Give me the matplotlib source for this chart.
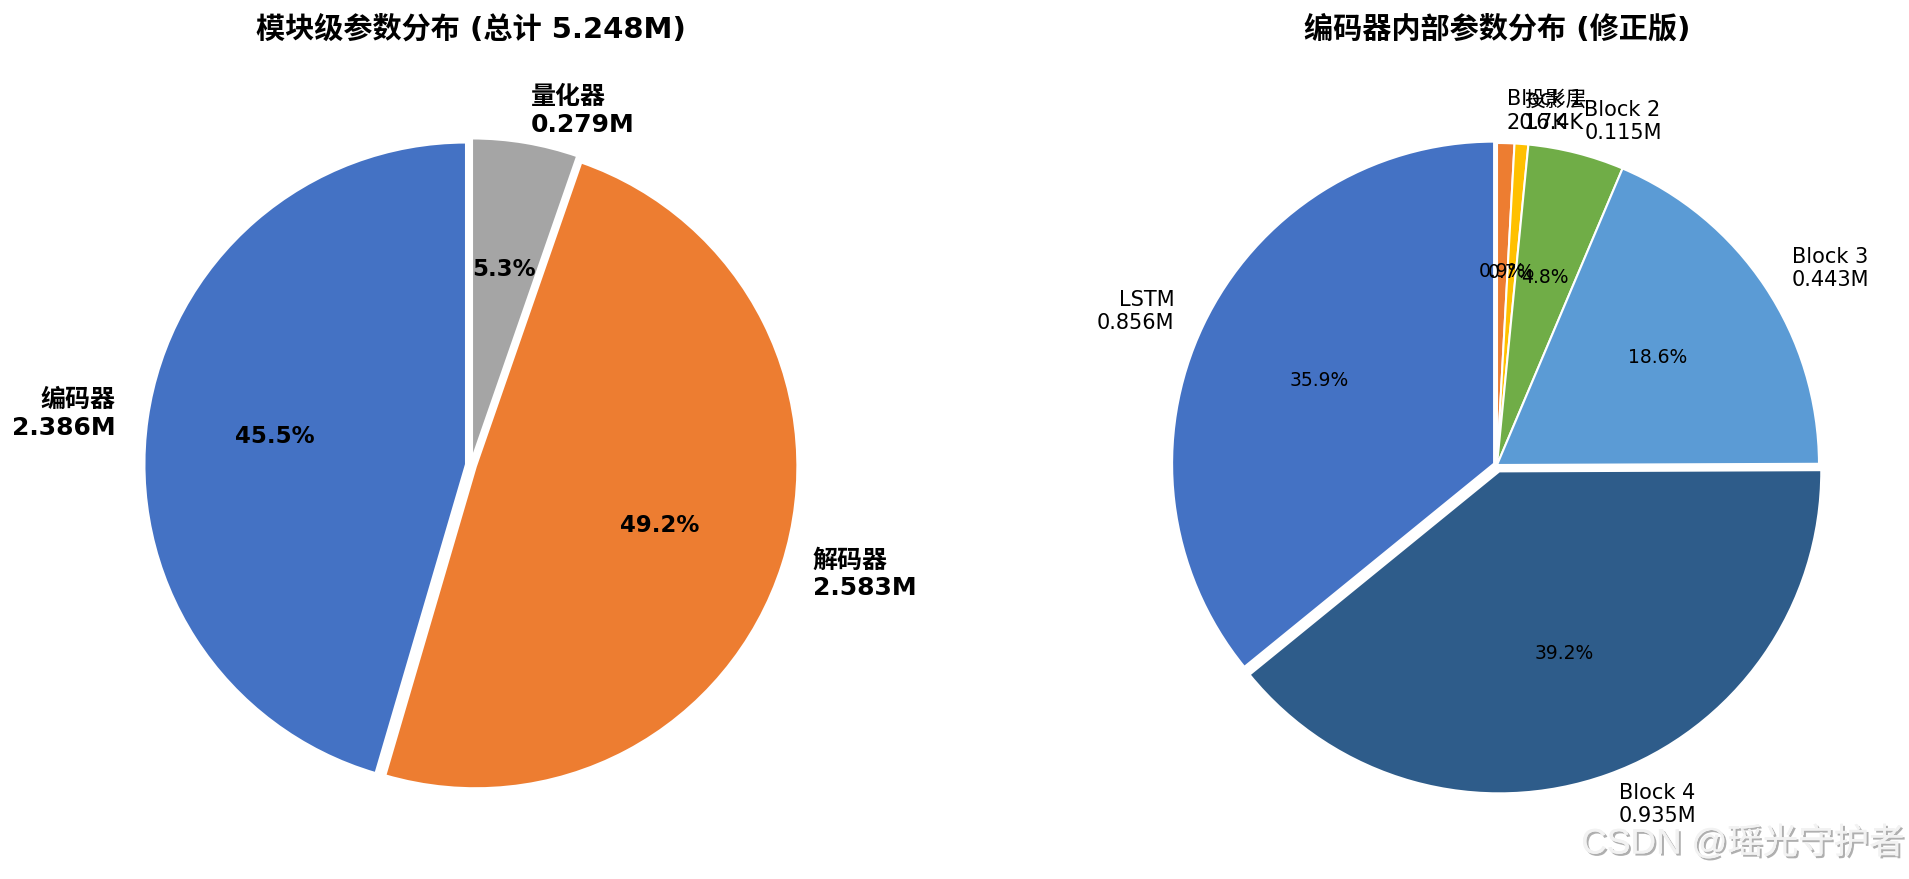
import matplotlib
matplotlib.use("Agg")
import matplotlib.pyplot as plt
import matplotlib.patheffects as pe

plt.rcParams['font.family'] = ['DejaVu Sans', 'Noto Sans CJK SC']

# ---- data ----
module_names = ['编码器', '解码器', '量化器']
module_params_m = [2.386, 2.583, 0.279]
module_colors = ['#4472C4', '#ED7D31', '#A5A5A5']
module_total_m = 5.248

enc_names = ['Block 1', '投影层', 'Block 2', 'Block 3', 'Block 4', 'LSTM']
enc_params_m = [0.0207, 0.0164, 0.115, 0.443, 0.935, 0.856]
enc_colors = ['#ED7D31', '#FFC000', '#70AD47', '#5B9BD5', '#2E5C8A', '#4472C4']

left_title = f'模块级参数分布 (总计 {module_total_m:.3f}M)'
right_title = '编码器内部参数分布 (修正版)'
watermark = 'CSDN @瑶光守护者'


def fmt(v):
    return f'{v * 1000:.1f}K' if v < 0.1 else f'{v:.3f}M'


W, H, DPI = 1909, 879, 150
fig = plt.figure(figsize=(W / DPI, H / DPI), dpi=DPI)

R_PX = 322
side = 2.5 * R_PX


def make_ax(cx, cy_top):
    cy = H - cy_top
    return fig.add_axes([(cx - side / 2) / W, (cy - side / 2) / H, side / W, side / H])


ax1 = make_ax(471, 465)
ax2 = make_ax(1497, 465)

# left pie
labels1 = [f'{n}\n{fmt(v)}' for n, v in zip(module_names, module_params_m)]
w1, t1, a1 = ax1.pie(module_params_m, labels=labels1, colors=module_colors,
                     autopct='%1.1f%%', startangle=90,
                     explode=[0.015, 0.015, 0.015],
                     wedgeprops=dict(edgecolor='white', linewidth=1.2),
                     textprops=dict(fontsize=12, fontweight='bold'))
for t in a1:
    t.set_fontsize(11)
    t.set_fontweight('bold')
ax1.set_xlim(-1.25, 1.25)
ax1.set_ylim(-1.25, 1.25)
ax1.set_aspect('equal')
ax1.set_title(left_title, fontsize=14, fontweight='bold', pad=12)

# right pie
labels2 = [f'{n}\n{fmt(v)}' for n, v in zip(enc_names, enc_params_m)]
w2, t2, a2 = ax2.pie(enc_params_m, labels=labels2, colors=enc_colors,
                     autopct='%1.1f%%', startangle=90, counterclock=False,
                     explode=[0, 0, 0, 0, 0.021, 0.01],
                     wedgeprops=dict(edgecolor='white', linewidth=1.0),
                     textprops=dict(fontsize=10))
for t in a2:
    t.set_fontsize(9)
ax2.set_xlim(-1.25, 1.25)
ax2.set_ylim(-1.25, 1.25)
ax2.set_aspect('equal')
ax2.set_title(right_title, fontsize=14, fontweight='bold', pad=12)

fig.text(1904 / W, 1 - 843 / H, watermark, ha='right', va='center',
         fontsize=17, color='#f2f2f2', fontweight='light',
         family=['Liberation Sans', 'Noto Sans CJK SC'],
         path_effects=[pe.withSimplePatchShadow(offset=(1.0, -1.0),
                                                shadow_rgbFace='#7a7a7a', alpha=0.6),
                       pe.Normal()])

fig.savefig('out.png', dpi=DPI)
